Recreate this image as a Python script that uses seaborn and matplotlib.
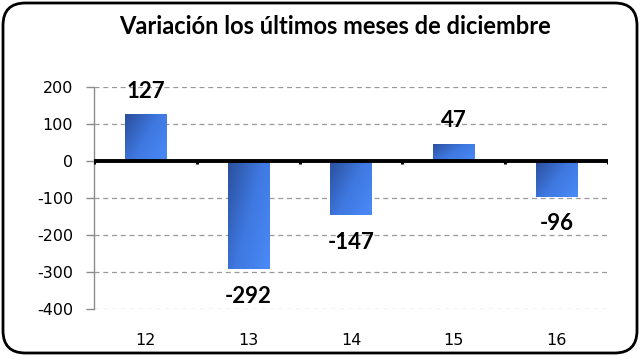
import matplotlib
matplotlib.use('Agg')
import matplotlib.pyplot as plt
from matplotlib.patches import FancyBboxPatch
from matplotlib.colors import LinearSegmentedColormap
import numpy as np
import pandas as pd
import seaborn as sns

# data
years = ['12', '13', '14', '15', '16']
variation = [127, -292, -147, 47, -96]
title = 'Variación los últimos meses de diciembre'

df = pd.DataFrame({'year': years, 'variation': variation})

sns.set_style('white')
plt.rcParams['font.family'] = ['Lato', 'DejaVu Sans']
plt.rcParams['axes.unicode_minus'] = False

fig = plt.figure(figsize=(6.4, 3.56), dpi=100)
ax = fig.add_axes([94 / 640, 1 - 309 / 356, (608 - 94) / 640, (309 - 87) / 356])

sns.barplot(data=df, x='year', y='variation', ax=ax, width=0.4,
            color='#3a6fd0', saturation=1, edgecolor='none')

# gradient fill clipped to each bar (dark top-left -> light bottom-right)
cmap = LinearSegmentedColormap.from_list('bar', ['#2a4f9c', '#3f78e0', '#4a8af8'])
xx, yy = np.meshgrid(np.linspace(0, 1, 60), np.linspace(0, 1, 60))
grad = 0.6 * xx + 0.4 * yy
for p in ax.patches:
    x0, y0 = p.get_x(), p.get_y()
    w, h = p.get_width(), p.get_height()
    bottom, top = min(y0, y0 + h), max(y0, y0 + h)
    im = ax.imshow(grad, cmap=cmap, extent=[x0, x0 + w, bottom, top],
                   origin='upper', aspect='auto', zorder=3)
    im.set_clip_path(p)

ax.set_xlim(-0.5, 4.5)
ax.set_ylim(-400, 200)
ax.set_yticks(range(-400, 201, 100))
ax.set_xlabel('')
ax.set_ylabel('')

ax.grid(axis='y', linestyle=(0, (4, 3)), color='#9a9a9a', linewidth=0.9)
ax.set_axisbelow(True)

for s in ['top', 'right', 'bottom']:
    ax.spines[s].set_visible(False)
ax.spines['left'].set_color('#8c8c8c')
ax.spines['left'].set_linewidth(1)

# zero axis line with category ticks
ax.axhline(0, color='black', linewidth=2.8, zorder=4)
ax.vlines(np.arange(-0.5, 5, 1), -9, 0, color='black', linewidth=2.2, zorder=4)

ax.tick_params(axis='y', length=6, color='#8c8c8c', width=1, pad=9, left=True)
ax.tick_params(axis='x', length=0, pad=17)
for lbl in ax.get_yticklabels() + ax.get_xticklabels():
    lbl.set_family(['DejaVu Sans'])
    lbl.set_fontsize(11.5)
    lbl.set_color('black')

# value labels
for i, v in enumerate(variation):
    y = v + 62 if v >= 0 else v - 73
    ax.text(i, y, str(v), ha='center', va='center', color='black',
            fontsize=16, fontweight='bold', zorder=5)

fig.text(335 / 640, 1 - 27 / 356, title, ha='center', va='center',
         fontsize=17, fontweight='bold', color='black')

border = FancyBboxPatch((3 / 640, 3 / 356), 634 / 640, 350 / 356,
                        boxstyle='round,pad=0,rounding_size=0.035',
                        transform=fig.transFigure, facecolor='none',
                        edgecolor='black', linewidth=2, mutation_aspect=640 / 356)
fig.patches.append(border)

fig.savefig('out.png', dpi=100)
